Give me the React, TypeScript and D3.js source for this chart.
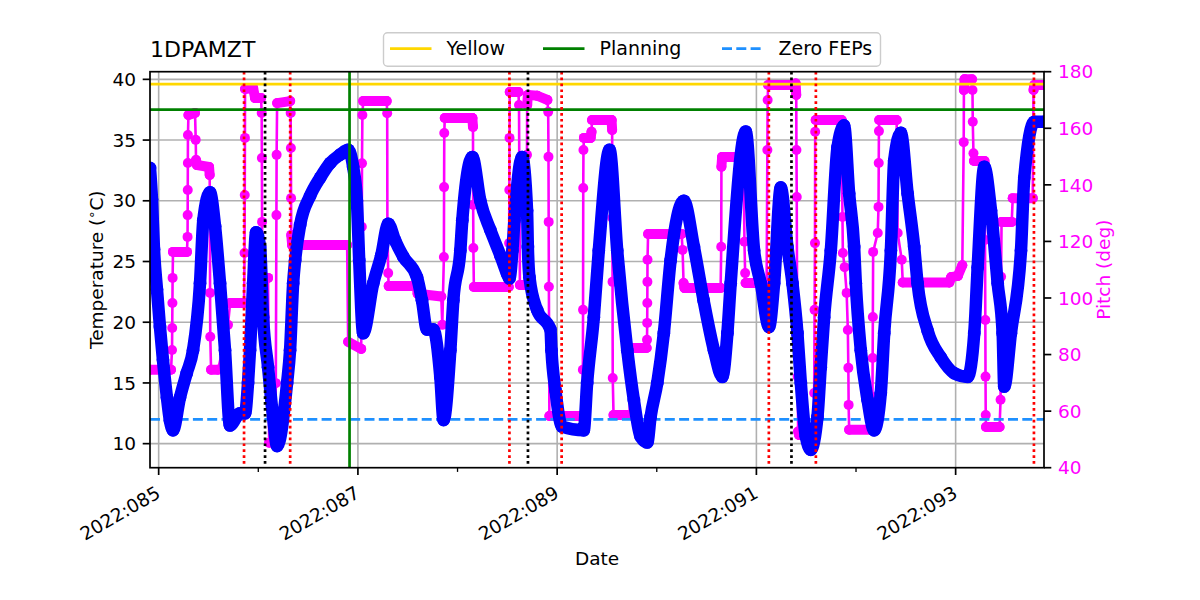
import React from 'react';
import * as d3 from 'd3';

// 1DPAMZT temperature (deg C), day of year 2022
const tempDays = [
  84.913, 84.933, 84.953, 84.983, 85.013, 85.043, 85.083, 85.113, 85.144, 85.214,
  85.281, 85.345, 85.415, 85.448, 85.515, 85.566, 85.616, 85.666, 85.716, 85.817,
  85.867, 85.897, 85.917, 85.948, 85.978, 86.018, 86.048, 86.098, 86.148, 86.189,
  86.289, 86.319, 86.350, 86.370, 86.420, 86.520, 86.621, 86.721, 86.821, 86.902,
  86.952, 86.990, 87.013, 87.053, 87.154, 87.234, 87.305, 87.375, 87.455, 87.593,
  87.643, 87.693, 87.757, 87.827, 87.860, 87.928, 87.958, 88.028, 88.048, 88.149,
  88.229, 88.329, 88.430, 88.497, 88.521, 88.551, 88.571, 88.648, 88.698, 88.706,
  88.722, 88.799, 88.933, 88.943, 88.983, 89.050, 89.267, 89.301, 89.368, 89.418,
  89.526, 89.603, 89.704, 89.770, 89.837, 89.905, 89.938, 90.005, 90.071, 90.139,
  90.272, 90.373, 90.470, 90.574, 90.658, 90.709, 90.742, 90.893, 90.977, 91.044,
  91.127, 91.178, 91.245, 91.312, 91.362, 91.412, 91.446, 91.496, 91.546, 91.613,
  91.646, 91.680, 91.747, 91.814, 91.880, 91.931, 91.981, 91.998, 92.048, 92.116,
  92.182, 92.249, 92.283, 92.350, 92.383, 92.450, 92.518, 92.584, 92.618, 92.719,
  92.852, 92.986, 93.121, 93.187, 93.221, 93.288, 93.355, 93.422, 93.472, 93.488,
  93.555, 93.656, 93.689, 93.790, 93.891,
];
const tempValues = [
  32.7, 30.1, 26.0, 22.7, 19.6, 16.9, 13.8, 11.9, 11.1, 13.8,
  15.8, 17.7, 23.2, 28.4, 30.7, 27.9, 23.2, 17.7, 11.5, 12.5,
  12.5, 15.0, 17.7, 23.2, 27.4, 26.2, 20.4, 16.3, 12.2, 9.8,
  15.0, 17.7, 23.2, 25.1, 28.0, 30.4, 31.9, 33.1, 33.8, 34.2,
  32.8, 30.0, 25.1, 19.1, 23.2, 25.5, 28.1, 26.7, 25.4, 23.7,
  21.8, 19.4, 19.4, 15.5, 11.95, 17.7, 21.8, 25.9, 28.4, 33.6,
  30.0, 27.6, 25.5, 24.0, 23.6, 25.9, 28.4, 33.6, 29.2, 26.2,
  23.7, 21.0, 19.4, 17.7, 14.4, 11.4, 11.1, 15.0, 20.4, 25.9,
  34.2, 25.9, 17.7, 13.6, 10.6, 10.1, 12.2, 15.0, 19.1, 25.1,
  30.0, 26.2, 21.8, 17.7, 15.5, 19.1, 23.2, 35.7, 25.9, 23.2,
  19.6, 23.2, 31.1, 26.2, 23.2, 19.1, 15.0, 10.6, 9.5, 12.2,
  16.3, 20.4, 25.9, 34.4, 36.2, 30.6, 26.2, 23.2, 17.7, 13.6,
  11.1, 14.2, 19.1, 25.9, 33.3, 35.6, 30.6, 26.2, 23.2, 19.3,
  17.1, 15.8, 15.5, 19.1, 24.5, 32.8, 29.2, 23.2, 19.1, 14.7,
  19.1, 25.9, 31.9, 36.5, 36.5,
];

// pitch (deg)
const pitchDays = [
  84.913, 85.124, 85.134, 85.136, 85.138, 85.140, 85.144, 85.284, 85.290, 85.291,
  85.292, 85.293, 85.294, 85.299, 85.365, 85.372, 85.375, 85.385, 85.506, 85.512,
  85.514, 85.516, 85.518, 85.526, 85.596, 85.696, 85.717, 85.857, 85.862, 85.864,
  85.866, 85.867, 85.948, 85.968, 86.028, 86.034, 86.036, 86.038, 86.042, 86.098,
  86.109, 86.169, 86.176, 86.182, 86.184, 86.189, 86.320, 86.325, 86.327, 86.329,
  86.331, 86.340, 86.892, 86.902, 87.033, 87.039, 87.041, 87.045, 87.053, 87.289,
  87.294, 87.296, 87.304, 87.309, 87.590, 87.600, 87.837, 87.847, 87.863, 87.865,
  87.867, 87.872, 88.149, 88.155, 88.157, 88.159, 88.164, 88.514, 88.518, 88.520,
  88.522, 88.524, 88.611, 88.617, 88.626, 88.691, 88.697, 88.699, 88.706, 88.800,
  88.902, 88.910, 88.913, 88.915, 88.917, 88.922, 89.254, 89.258, 89.260, 89.262,
  89.264, 89.269, 89.335, 89.345, 89.350, 89.546, 89.552, 89.554, 89.556, 89.558,
  89.566, 89.727, 89.737, 89.898, 89.902, 89.904, 89.905, 89.906, 89.907, 89.913,
  90.249, 90.259, 90.269, 90.279, 90.641, 90.647, 90.649, 90.656, 90.872, 90.880,
  90.887, 90.892, 91.103, 91.110, 91.113, 91.118, 91.344, 91.394, 91.400, 91.402,
  91.405, 91.409, 91.414, 91.419, 91.429, 91.575, 91.580, 91.584, 91.588, 91.590,
  91.595, 91.856, 91.864, 91.868, 91.886, 91.906, 91.918, 91.923, 91.926, 91.931,
  92.162, 92.165, 92.167, 92.169, 92.172, 92.218, 92.226, 92.228, 92.230, 92.233,
  92.408, 92.418, 92.459, 92.469, 92.936, 92.956, 93.022, 93.067, 93.081, 93.083,
  93.090, 93.164, 93.169, 93.172, 93.179, 93.184, 93.290, 93.295, 93.298, 93.300,
  93.302, 93.305, 93.441, 93.451, 93.454, 93.456, 93.461, 93.563, 93.573, 93.774,
  93.782, 93.789, 93.894,
];
const pitchValues = [
  74.6, 74.6, 81.6, 89.4, 98.2, 107.1, 116.3, 116.3, 121.6, 129.3,
  138.2, 147.7, 157.6, 164.7, 165.4, 155.9, 148.8, 147.0, 146.3, 143.5,
  132.9, 101.8, 86.3, 74.6, 74.6, 90.5, 98.2, 98.2, 115.9, 136.4,
  156.6, 173.9, 174.2, 170.7, 170.7, 165.4, 149.5, 126.9, 107.1, 107.1,
  48.8, 48.8, 69.9, 129.3, 150.6, 168.9, 169.6, 165.4, 153.0, 135.3,
  122.3, 118.7, 118.7, 84.5, 82.0, 125.2, 147.6, 164.7, 169.6, 169.6,
  165.3, 126.5, 108.8, 104.2, 104.2, 101.5, 100.5, 90.5, 114.5, 139.2,
  158.3, 163.6, 163.6, 160.5, 132.9, 117.7, 103.9, 103.9, 119.4, 138.2,
  156.6, 172.8, 172.8, 168.2, 104.6, 104.6, 150.6, 168.2, 171.8, 171.5,
  170.0, 165.8, 149.9, 126.9, 104.0, 58.3, 58.3, 74.6, 95.8, 138.9,
  152.3, 156.6, 156.6, 158.8, 162.9, 162.9, 159.4, 128.3, 105.7, 71.7,
  58.6, 58.6, 82.3, 82.3, 85.2, 91.2, 98.2, 105.7, 113.5, 122.6,
  122.6, 117.0, 105.3, 103.5, 103.5, 118.1, 146.4, 149.8, 149.8, 119.9,
  108.8, 105.3, 105.3, 152.3, 170.0, 175.3, 175.3, 175.8, 171.8, 152.3,
  135.7, 92.9, 72.2, 52.8, 51.6, 51.6, 66.4, 95.8, 119.4, 158.8,
  162.9, 162.9, 128.6, 115.9, 110.9, 101.8, 88.7, 75.3, 62.2, 53.4,
  53.4, 65.0, 78.8, 93.3, 116.3, 123.0, 132.2, 147.7, 159.0, 162.9,
  162.9, 123.0, 113.5, 105.5, 105.5, 107.4, 107.8, 111.6, 155.1, 173.5,
  177.3, 177.3, 173.5, 162.3, 151.2, 148.4, 148.4, 120.5, 92.2, 72.2,
  58.6, 54.4, 54.4, 64.0, 93.4, 107.5, 126.9, 126.9, 135.3, 135.3,
  173.5, 175.3, 175.3,
];

const redDays = [85.857, 86.32, 88.521, 89.045, 91.125, 91.597, 93.786];
const blackDays = [86.068, 88.707, 91.352];
const planningDay = 86.916;

const yellowLimit = 39.6;
const planningLimit = 37.5;
const zeroFepsLimit = 12.0;

const tempTicks = [10, 15, 20, 25, 30, 35, 40];
const pitchTicks = [40, 60, 80, 100, 120, 140, 160, 180];
const majorDays = [85, 87, 89, 91, 93];
const minorDays = [86, 88, 90, 92];
const legendLabels = ['Yellow', 'Planning', 'Zero FEPs'];

const FONT = '"DejaVu Sans", sans-serif';
const W = 1200;
const H = 600;
const L = 150;
const R = 1044;
const T = 71.7;
const B = 467.7;

export default function App() {
  const x = d3.scaleLinear().domain([84.913, 93.887]).range([L, R]);
  const yT = d3.scaleLinear().domain([8.02, 40.63]).range([B, T]);
  const yP = d3.scaleLinear().domain([40, 180]).range([B, T]);

  const temp = tempDays.map((d, i) => [d, tempValues[i]] as [number, number]);
  const pitch = pitchDays.map((d, i) => [d, pitchValues[i]] as [number, number]);

  const tLine = d3.line<[number, number]>().x(d => x(d[0])).y(d => yT(d[1])).curve(d3.curveMonotoneX);
  const pLine = d3.line<[number, number]>().x(d => x(d[0])).y(d => yP(d[1]));

  // dense runs of markers at steady pitch show up as a thick bar
  const plateaus: [number, number][][] = [];
  for (let i = 1; i < pitch.length; i++) {
    const a = pitch[i - 1], b = pitch[i];
    if (Math.abs(b[1] - a[1]) <= 4 && b[0] - a[0] >= 0.005) plateaus.push([a, b]);
  }

  const legendColors = ['#ffd700', '#008000', '#1e90ff'];
  const legendX = [390, 543, 722];

  return (
    <svg width={W} height={H} style={{ position: 'absolute', left: 0, top: 0, background: '#fff' }}
      fontFamily={FONT}>
      <defs>
        <clipPath id="plot">
          <rect x={L} y={T} width={R - L} height={B - T} />
        </clipPath>
      </defs>

      {/* grid */}
      <g stroke="#b0b0b0" strokeWidth={1.6}>
        {tempTicks.map(t => <line key={'h' + t} x1={L} x2={R} y1={yT(t)} y2={yT(t)} />)}
        {majorDays.map(d => <line key={'v' + d} x1={x(d)} x2={x(d)} y1={T} y2={B} />)}
      </g>

      <g clipPath="url(#plot)">
        {/* pitch */}
        <path d={pLine(pitch) || ''} fill="none" stroke="#ff00ff" strokeWidth={2.6} />
        {plateaus.map((p, i) => (
          <path key={'pl' + i} d={pLine(p) || ''} fill="none" stroke="#ff00ff"
            strokeWidth={10} strokeLinecap="round" />
        ))}
        {pitch.map((p, i) => <circle key={'pc' + i} cx={x(p[0])} cy={yP(p[1])} r={5} fill="#ff00ff" />)}

        {/* limits */}
        <line x1={L} x2={R} y1={yT(zeroFepsLimit)} y2={yT(zeroFepsLimit)} stroke="#1e90ff"
          strokeWidth={2.7} strokeDasharray="10,4.3" />
        <line x1={L} x2={R} y1={yT(yellowLimit)} y2={yT(yellowLimit)} stroke="#ffd700" strokeWidth={2.7} />
        <line x1={L} x2={R} y1={yT(planningLimit)} y2={yT(planningLimit)} stroke="#008000" strokeWidth={2.7} />

        {/* temperature */}
        <path d={tLine(temp) || ''} fill="none" stroke="#0000ff" strokeWidth={12.5}
          strokeLinejoin="round" strokeLinecap="round" />
        {temp.map((p, i) => <circle key={'tc' + i} cx={x(p[0])} cy={yT(p[1])} r={6.4} fill="#0000ff" />)}

        {/* events */}
        {redDays.map(d => (
          <line key={'r' + d} x1={x(d)} x2={x(d)} y1={T} y2={B} stroke="#ff0000"
            strokeWidth={2.7} strokeDasharray="2.7,3.2" />
        ))}
        {blackDays.map(d => (
          <line key={'b' + d} x1={x(d)} x2={x(d)} y1={T} y2={B} stroke="#000"
            strokeWidth={2.7} strokeDasharray="2.7,3.2" />
        ))}
        <line x1={x(planningDay)} x2={x(planningDay)} y1={T} y2={B} stroke="#008000" strokeWidth={2.7} />
      </g>

      {/* frame */}
      <rect x={L} y={T} width={R - L} height={B - T} fill="none" stroke="#000" strokeWidth={1.7} />

      {/* left axis */}
      {tempTicks.map(t => (
        <g key={'lt' + t}>
          <line x1={L - 7.3} x2={L} y1={yT(t)} y2={yT(t)} stroke="#000" strokeWidth={1.7} />
          <text x={L - 14} y={yT(t) + 6.7} textAnchor="end" fontSize={18.5}>{t}</text>
        </g>
      ))}
      {/* right axis */}
      {pitchTicks.map(t => (
        <g key={'rt' + t}>
          <line x1={R} x2={R + 7.3} y1={yP(t)} y2={yP(t)} stroke="#000" strokeWidth={1.7} />
          <text x={R + 14} y={yP(t) + 6.7} fontSize={18.5} fill="#ff00ff">{t}</text>
        </g>
      ))}
      {/* bottom axis */}
      {majorDays.map(d => (
        <g key={'xt' + d}>
          <line x1={x(d)} x2={x(d)} y1={B} y2={B + 7.3} stroke="#000" strokeWidth={1.7} />
          <text transform={`translate(${x(d) + 3},${B + 29}) rotate(-30)`} textAnchor="end"
            fontSize={18.5}>{`2022:${String(d).padStart(3, '0')}`}</text>
        </g>
      ))}
      {minorDays.map(d => (
        <line key={'xm' + d} x1={x(d)} x2={x(d)} y1={B} y2={B + 4.2} stroke="#000" strokeWidth={1.3} />
      ))}

      {/* labels */}
      <text x={150} y={57} fontSize={22}>1DPAMZT</text>
      <text x={(L + R) / 2} y={565} textAnchor="middle" fontSize={18.5}>Date</text>
      <text transform={`translate(103,${(T + B) / 2}) rotate(-90)`} textAnchor="middle" fontSize={18.5}>
        Temperature (<tspan fontSize={13} dy={-7}>∘</tspan><tspan dy={7}>C)</tspan>
      </text>
      <text transform={`translate(1110,${(T + B) / 2}) rotate(-90)`} textAnchor="middle" fontSize={18.5}
        fill="#ff00ff">Pitch (deg)</text>

      {/* legend */}
      <rect x={383.5} y={32.7} width={497} height={33.6} rx={4} fill="#fff" fillOpacity={0.8}
        stroke="#cccccc" strokeWidth={1.4} />
      {legendLabels.map((lab, i) => (
        <g key={lab}>
          <line x1={legendX[i]} x2={legendX[i] + 41.5} y1={48.7} y2={48.7} stroke={legendColors[i]}
            strokeWidth={2.7} strokeDasharray={i === 2 ? '10,4.3' : undefined} />
          <text x={legendX[i] + 56.5} y={55} fontSize={19}>{lab}</text>
        </g>
      ))}
    </svg>
  );
}
